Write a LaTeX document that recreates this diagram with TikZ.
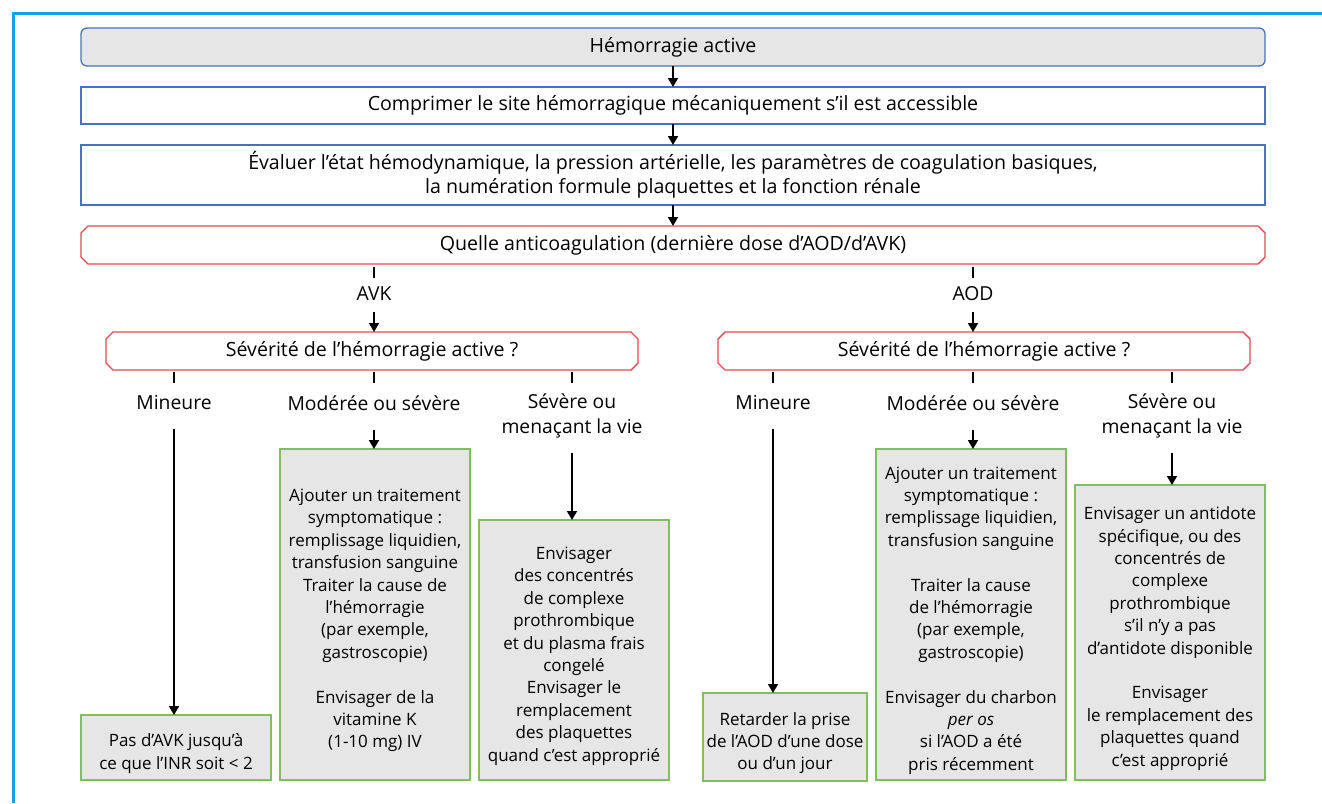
\documentclass[tikz,border=0pt]{standalone}
\usepackage{fontspec}
\setmainfont{Open Sans}
\usetikzlibrary{arrows.meta}

\definecolor{frameblue}{RGB}{20,160,225}
\definecolor{boxblue}{RGB}{70,114,196}
\definecolor{boxred}{RGB}{226,74,84}
\definecolor{boxgreen}{RGB}{130,190,95}
\definecolor{boxgray}{RGB}{230,230,230}

\tikzset{
  txt/.style={font=\fontsize{17}{22.4}\selectfont, align=center, inner sep=0pt, outer sep=0pt},
  bigtxt/.style={font=\fontsize{19.6}{24}\selectfont, align=center, inner sep=0pt, outer sep=0pt},
  wide/.style={bigtxt, minimum width=1184pt},
  topbox/.style={wide, draw=boxblue, line width=1.3pt, fill=boxgray, rounded corners=6pt, minimum height=38pt},
  stepbox/.style={wide, draw=boxblue, line width=1.3pt, fill=white},
  question/.style={bigtxt},
  redline/.style={draw=boxred, line width=1.4pt, line join=miter},
  lbl/.style={font=\fontsize{19.3}{25}\selectfont, align=center, inner sep=0pt, outer sep=0pt},
  actbox/.style={txt, draw=boxgreen, line width=1.8pt, fill=boxgray, minimum width=190pt},
  acttext/.style={txt},
  arr/.style={line width=1.8pt, -{Triangle[width=10pt,length=9pt]}},
  tick/.style={line width=1.8pt},
}

% outline with cut corners around a node
\newcommand\chamferframe[2][7pt]{%
  \draw[redline] ([xshift=#1]#2.north west) -- ([xshift=-#1]#2.north east)
    -- ([yshift=-#1]#2.north east) -- ([yshift=#1]#2.south east)
    -- ([xshift=-#1]#2.south east) -- ([xshift=#1]#2.south west)
    -- ([yshift=#1]#2.south west) -- ([yshift=-#1]#2.north west) -- cycle;}

\begin{document}
\begin{tikzpicture}[x=1pt,y=-1pt]
\useasboundingbox (0,0) rectangle (1322,803);

% frame lines at top and left
\draw[frameblue, line width=3pt] (13,803) -- (13,13) -- (1322,13);

% main sequence
\node[topbox] (start) at (673,47) {Hémorragie active};
\node[stepbox, minimum height=37pt] (press) at (673,105.5)
  {Comprimer le site hémorragique mécaniquement s’il est accessible};
\node[stepbox, minimum height=60pt] (eval) at (673,175)
  {Évaluer l’état hémodynamique, la pression artérielle, les paramètres de coagulation basiques,\\
   la numération formule plaquettes et la fonction rénale};
\node[question, minimum width=1184pt, minimum height=38pt] (anti) at (673,245)
  {Quelle anticoagulation (dernière dose d’AOD/d’AVK)};
\chamferframe{anti}

\draw[arr] (start) -- (press);
\draw[arr] (press) -- (eval);
\draw[arr] (eval) -- (anti);

% anticoagulant branches
\node[lbl] (avk) at (374,294) {AVK};
\node[lbl] (aod) at (973,294) {AOD};
\draw[tick] ([yshift=-3pt]anti.south -| avk) -- ++(0,11);
\draw[tick] ([yshift=-3pt]anti.south -| aod) -- ++(0,11);

\node[question, minimum width=532pt, minimum height=38pt] (sevL) at (372,351)
  {Sévérité de l’hémorragie active ?};
\chamferframe{sevL}
\node[question, minimum width=532pt, minimum height=38pt] (sevR) at (984,351)
  {Sévérité de l’hémorragie active ?};
\chamferframe{sevR}

\draw[arr] ([yshift=-18pt]avk.center) -- (avk |- sevL.north);
\draw[arr] ([yshift=-18pt]aod.center) -- (aod |- sevR.north);

% severity labels, AVK side
\node[lbl] (minL) at (174,403) {Mineure};
\node[lbl] (modL) at (374,403) {Modérée ou sévère};
\node[lbl] (grvL) at (572,415.5) {Sévère ou\\menaçant la vie};
% severity labels, AOD side
\node[lbl] (minR) at (773,403) {Mineure};
\node[lbl] (modR) at (973,403) {Modérée ou sévère};
\node[lbl] (grvR) at (1172,415.5) {Sévère ou\\menaçant la vie};

\foreach \n/\q in {minL/sevL, modL/sevL, grvL/sevL, minR/sevR, modR/sevR, grvR/sevR}
  \draw[tick] ([yshift=-2pt]\q.south -| \n) -- ++(0,11);

% action boxes
\node[actbox, minimum height=65pt] (pas) at (176,747.5) {};
\node[actbox, minimum height=331pt] (actmodL) at (375,614.5) {};
\node[actbox, minimum height=260pt] (actgrvL) at (574,650) {};
\node[actbox, minimum width=164pt, minimum height=88pt] (ret) at (785,737) {};
\node[actbox, minimum height=331pt] (actmodR) at (971,614.5) {};
\node[actbox, minimum height=295pt] (actgrvR) at (1170,632.5) {};

% their texts, set a little below the middle of each box
\node[acttext] (pasT) at ([yshift=-6pt]pas.center)
  {Pas d’AVK jusqu’à\\ce que l’INR soit < 2};
\node[acttext] (actmodLT) at ([yshift=-6pt]actmodL.center)
  {Ajouter un traitement\\symptomatique :\\remplissage liquidien,\\transfusion sanguine\\
   Traiter la cause de\\l’hémorragie\\(par exemple,\\gastroscopie)\\[22.4pt]
   Envisager de la\\vitamine K\\(1-10 mg) IV};
\node[acttext] (actgrvLT) at ([yshift=-6pt]actgrvL.center)
  {Envisager\\des concentrés\\de complexe\\prothrombique\\et du plasma frais\\congelé\\
   Envisager le\\remplacement\\des plaquettes\\quand c’est approprié};
\node[acttext] (retT) at ([yshift=-6pt]ret.center)
  {Retarder la prise\\de l’AOD d’une dose\\ou d’un jour};
\node[acttext] (actmodRT) at ([yshift=-6pt]actmodR.center)
  {Ajouter un traitement\\symptomatique :\\remplissage liquidien,\\transfusion sanguine\\[22.4pt]
   Traiter la cause\\de l’hémorragie\\(par exemple,\\gastroscopie)\\[22.4pt]
   Envisager du charbon\\\textit{per os}\\si l’AOD a été\\pris récemment};
\node[acttext] (actgrvRT) at ([yshift=-6pt]actgrvR.center)
  {Envisager un antidote\\spécifique, ou des\\concentrés de\\complexe\\prothrombique\\
   s’il n’y a pas\\d’antidote disponible\\[22.4pt]
   Envisager\\le remplacement des\\plaquettes quand\\c’est approprié};

% arrows into the actions
\draw[arr] ([yshift=-26pt]minL.center) -- (minL |- pas.north);
\draw[arr] ([yshift=-27pt]modL.center) -- (modL |- actmodL.north);
\draw[arr] ([yshift=-37pt]grvL.center) -- (grvL |- actgrvL.north);
\draw[arr] ([yshift=-26pt]minR.center) -- (minR |- ret.north);
\draw[arr] ([yshift=-27pt]modR.center) -- (modR |- actmodR.north);
\draw[arr] ([yshift=-37pt]grvR.center) -- (grvR |- actgrvR.north);
\end{tikzpicture}
\end{document}
